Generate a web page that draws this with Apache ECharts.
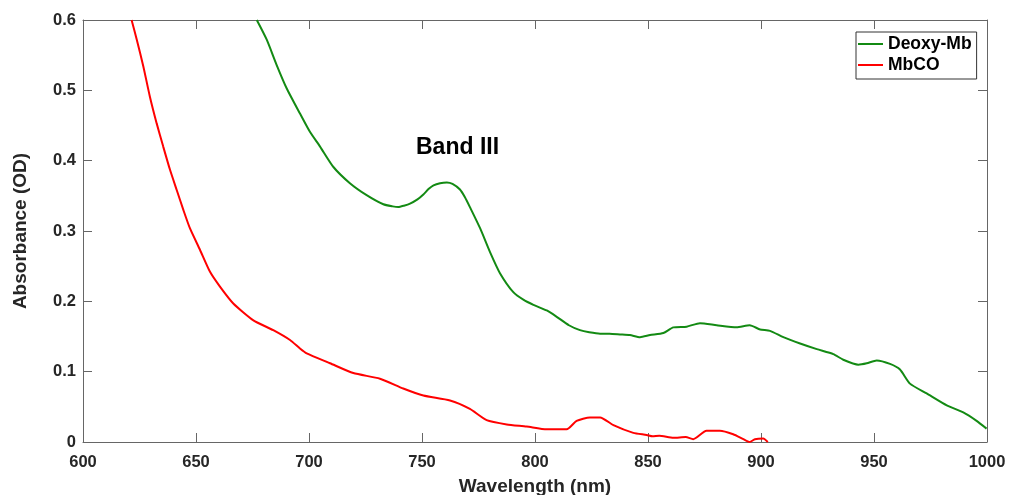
<!DOCTYPE html>
<html>
<head>
<meta charset="utf-8">
<script src="https://cdn.jsdelivr.net/npm/echarts@6/dist/echarts.min.js"></script>
<style>
html,body{margin:0;padding:0;background:#fff;}
#chart{width:1010px;height:495px;}
</style>
</head>
<body>
<div id="chart"></div>
<script>
const xTicks = [600, 650, 700, 750, 800, 850, 900, 950, 1000];
const yTicks = [0, 0.1, 0.2, 0.3, 0.4, 0.5, 0.6];

const deoxyWl = [676.9, 681.3, 685.7, 690.1, 696, 700.4, 704.9, 710.8, 718.1, 725.5, 732.9, 737, 739.5, 742, 744.7, 748, 750.6, 753, 755.1, 758, 761, 763.5, 766.8, 769, 771.2, 775.7, 780.1, 784.5, 790.4, 795, 799.3, 805.2, 809.6, 815, 819.9, 824, 828.8, 833, 837.6, 842, 846.5, 850.9, 856.8, 861.2, 867.1, 873, 880.4, 889.2, 895, 899.6, 904, 909.9, 917.3, 924.7, 932, 936.4, 943.1, 946.8, 951.2, 957.1, 961.5, 965.9, 973.3, 982.2, 989.5, 995.4, 999.8];
const deoxyAbs = [0.600, 0.572, 0.536, 0.503, 0.467, 0.441, 0.420, 0.391, 0.368, 0.351, 0.338, 0.335, 0.334, 0.336, 0.339, 0.345, 0.352, 0.360, 0.365, 0.368, 0.369, 0.367, 0.359, 0.348, 0.334, 0.304, 0.270, 0.240, 0.213, 0.202, 0.195, 0.187, 0.178, 0.166, 0.159, 0.156, 0.154, 0.154, 0.153, 0.152, 0.149, 0.152, 0.155, 0.163, 0.164, 0.169, 0.166, 0.163, 0.166, 0.160, 0.158, 0.149, 0.140, 0.132, 0.125, 0.117, 0.110, 0.112, 0.116, 0.111, 0.103, 0.083, 0.069, 0.052, 0.042, 0.030, 0.019];

const mbcoWl = [621.5, 623.8, 626.7, 629.6, 632.6, 635.5, 638.5, 641.5, 644.4, 647.3, 651.8, 656.2, 660.6, 666.5, 675.4, 684.2, 691.6, 696, 699, 709.3, 719.6, 731.4, 741.7, 750.6, 762.4, 771.2, 778.6, 787.5, 796.3, 805.2, 814, 818.4, 824.3, 828.8, 834.7, 843.5, 849.4, 852, 855, 861.2, 866.7, 870, 875.9, 881.8, 887.7, 892.2, 895, 897.3, 901, 903];
const mbcoAbs = [0.600, 0.572, 0.534, 0.491, 0.453, 0.420, 0.387, 0.358, 0.330, 0.304, 0.273, 0.242, 0.221, 0.197, 0.173, 0.159, 0.145, 0.133, 0.126, 0.112, 0.098, 0.090, 0.076, 0.066, 0.059, 0.047, 0.031, 0.025, 0.022, 0.018, 0.018, 0.030, 0.035, 0.035, 0.024, 0.013, 0.010, 0.008, 0.009, 0.006, 0.007, 0.004, 0.016, 0.016, 0.011, 0.004, 0.000, 0.004, 0.005, 0.000];

const deoxyData = deoxyWl.map((w, i) => [w, deoxyAbs[i]]);
const mbcoData = mbcoWl.map((w, i) => [w, mbcoAbs[i]]);

const FONT = '"Liberation Sans", Arial, sans-serif';
const AX = '#666666';
const TXT = '#262626';

const chart = echarts.init(document.getElementById('chart'), null, {renderer: 'canvas'});
const baseX = {
  type: 'value', min: 600, max: 1000, interval: 50,
  axisLine: {show: true, onZero: false, lineStyle: {color: AX, width: 1}},
  axisTick: {show: true, inside: true, length: 9, lineStyle: {color: AX}},
  splitLine: {show: false}
};
const baseY = {
  type: 'value', min: 0, max: 0.6, interval: 0.1,
  axisLine: {show: true, onZero: false, lineStyle: {color: AX, width: 1}},
  axisTick: {show: true, inside: true, length: 9, lineStyle: {color: AX}},
  splitLine: {show: false}
};
chart.setOption({
  animation: false,
  backgroundColor: '#fff',
  grid: {left: 83, right: 23, top: 20, bottom: 53, containLabel: false, outerBoundsMode: 'none'},
  xAxis: [
    Object.assign({}, baseX, {
      position: 'bottom',
      name: 'Wavelength (nm)', nameLocation: 'middle', nameGap: 35,
      nameTextStyle: {fontFamily: FONT, fontWeight: 'bold', fontSize: 19, color: TXT},
      axisLabel: {show: true, margin: 12, fontFamily: FONT, fontWeight: 'bold', fontSize: 16.5, color: TXT,
        formatter: v => String(v)}
    }),
    Object.assign({}, baseX, {position: 'top', axisLabel: {show: false}})
  ],
  yAxis: [
    Object.assign({}, baseY, {
      position: 'left',
      name: 'Absorbance (OD)', nameLocation: 'middle', nameGap: 53, nameRotate: 90,
      nameTextStyle: {fontFamily: FONT, fontWeight: 'bold', fontSize: 19, color: TXT},
      axisLabel: {show: true, margin: 7, fontFamily: FONT, fontWeight: 'bold', fontSize: 16.5, color: TXT,
        formatter: v => String(+v.toFixed(1))}
    }),
    Object.assign({}, baseY, {position: 'right', axisLabel: {show: false}})
  ],
  legend: {
    orient: 'vertical', left: 856, top: 32,
    backgroundColor: '#fff', borderColor: '#333', borderWidth: 1,
    padding: [3, 5, 5, 2], itemGap: 3, itemWidth: 25, itemHeight: 2,
    icon: 'rect',
    textStyle: {fontFamily: FONT, fontWeight: 'bold', fontSize: 17.5, color: '#000'},
    data: ['Deoxy-Mb', 'MbCO']
  },
  graphic: [{
    type: 'text', left: 416, top: 136,
    style: {text: 'Band III', fontFamily: FONT, fontWeight: 'bold', fontSize: 23, fill: '#000'}
  }],
  series: [
    {name: 'Deoxy-Mb', type: 'line', data: deoxyData, showSymbol: false, symbol: 'none', smooth: 0.2,
      clip: true, lineStyle: {color: '#138a13', width: 2}, itemStyle: {color: '#138a13'}},
    {name: 'MbCO', type: 'line', data: mbcoData, showSymbol: false, symbol: 'none', smooth: 0.2,
      clip: true, lineStyle: {color: '#ff0000', width: 2}, itemStyle: {color: '#ff0000'}}
  ]
});
</script>
</body>
</html>
